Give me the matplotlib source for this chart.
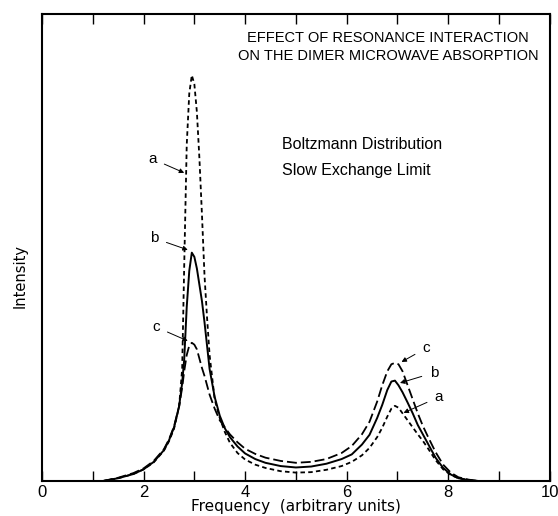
import matplotlib
matplotlib.use('Agg')
import matplotlib.pyplot as plt

# frequency grid (arbitrary units)
freq = [1.2, 1.5, 1.8, 2.0, 2.2, 2.4, 2.5, 2.6, 2.7, 2.76, 2.8, 2.85, 2.9, 2.95,
        3.0, 3.05, 3.1, 3.15, 3.2, 3.25, 3.3, 3.4, 3.5, 3.6, 3.7, 3.85, 4.0,
        4.2, 4.4, 4.7, 5.0, 5.3, 5.6, 5.9, 6.1, 6.3, 6.45, 6.6, 6.7, 6.8, 6.88,
        6.95, 7.02, 7.1, 7.2, 7.3, 7.4, 7.5, 7.6, 7.75, 7.9, 8.05, 8.2, 8.4, 8.6]

# curve a (short dashes)
curve_a = [0.000, 0.006, 0.015, 0.025, 0.040, 0.065, 0.085, 0.112, 0.160, 0.240,
           0.460, 0.720, 0.830, 0.869, 0.850, 0.790, 0.690, 0.570, 0.440, 0.350,
           0.270, 0.175, 0.135, 0.105, 0.082, 0.060, 0.046, 0.035, 0.028, 0.021,
           0.018, 0.019, 0.024, 0.032, 0.041, 0.055, 0.071, 0.094, 0.114, 0.138,
           0.155, 0.161, 0.157, 0.145, 0.130, 0.115, 0.100, 0.086, 0.070, 0.045,
           0.025, 0.013, 0.006, 0.002, 0.000]

# curve b (solid)
curve_b = [0.000, 0.006, 0.015, 0.025, 0.041, 0.066, 0.087, 0.115, 0.160, 0.210,
           0.260, 0.373, 0.450, 0.489, 0.480, 0.455, 0.420, 0.385, 0.340, 0.290,
           0.240, 0.180, 0.140, 0.113, 0.094, 0.074, 0.059, 0.047, 0.039, 0.032,
           0.029, 0.031, 0.037, 0.047, 0.057, 0.078, 0.099, 0.135, 0.163, 0.195,
           0.213, 0.215, 0.205, 0.190, 0.168, 0.145, 0.120, 0.100, 0.080, 0.050,
           0.028, 0.014, 0.006, 0.002, 0.000]

# curve c (long dashes)
curve_c = [0.000, 0.007, 0.017, 0.027, 0.043, 0.068, 0.089, 0.117, 0.160, 0.200,
           0.235, 0.270, 0.290, 0.296, 0.292, 0.282, 0.262, 0.242, 0.225, 0.205,
           0.185, 0.155, 0.130, 0.115, 0.100, 0.083, 0.069, 0.058, 0.050, 0.043,
           0.039, 0.041, 0.047, 0.060, 0.075, 0.100, 0.127, 0.170, 0.205, 0.235,
           0.250, 0.253, 0.250, 0.235, 0.205, 0.175, 0.145, 0.118, 0.095, 0.062,
           0.035, 0.018, 0.008, 0.003, 0.000]

# curve labels: (text, arrow tip, text position)
labels = [('a', (2.80, 0.66), (2.17, 0.69)),
          ('b', (2.87, 0.495), (2.21, 0.52)),
          ('c', (2.87, 0.30), (2.24, 0.33)),
          ('c', (7.08, 0.255), (7.57, 0.285)),
          ('b', (7.05, 0.21), (7.72, 0.232)),
          ('a', (7.12, 0.146), (7.82, 0.18))]

fig = plt.figure(figsize=(5.58, 5.16), dpi=100)
ax = fig.add_axes([0.0753, 0.0678, 0.910, 0.905])

ax.plot(freq, curve_a, color='black', lw=1.3, linestyle=(0, (2.5, 1.8)))
ax.plot(freq, curve_b, color='black', lw=1.4)
ax.plot(freq, curve_c, color='black', lw=1.3, linestyle=(0, (5.5, 2.2)))

for txt, tip, pos in labels:
    ax.annotate(txt, xy=tip, xytext=pos, fontsize=11, family='Liberation Sans',
                ha='center', va='center',
                arrowprops=dict(arrowstyle='-|>', color='black', lw=0.7,
                                mutation_scale=7, shrinkA=4, shrinkB=0))

ax.text(0.681, 0.929, 'EFFECT OF RESONANCE INTERACTION\nON THE DIMER MICROWAVE ABSORPTION',
        transform=ax.transAxes, ha='center', va='center', fontsize=10.5,
        family='Liberation Sans', linespacing=1.35)
ax.text(4.73, 0.72, 'Boltzmann Distribution', fontsize=11.5,
        family='Liberation Sans', va='center')
ax.text(4.73, 0.666, 'Slow Exchange Limit', fontsize=11.5,
        family='Liberation Sans', va='center')

ax.set_xlim(0, 10)
ax.set_ylim(0, 1)
ax.set_xticks(range(0, 11))
ax.set_xticklabels([str(i) if i % 2 == 0 else '' for i in range(0, 11)],
                   fontsize=12, family='Liberation Sans')
ax.set_yticks([])
ax.tick_params(axis='x', direction='in', length=7.5, width=1, top=True, pad=3)
for s in ax.spines.values():
    s.set_linewidth(1.5)

ax.set_xlabel('Frequency  (arbitrary units)', fontsize=11,
              family='DejaVu Sans', labelpad=-1)
ax.text(-0.043, 0.44, 'Intensity', transform=ax.transAxes, rotation=90,
        ha='center', va='center', fontsize=10.5, family='DejaVu Sans')

fig.savefig('out.png', dpi=100)
